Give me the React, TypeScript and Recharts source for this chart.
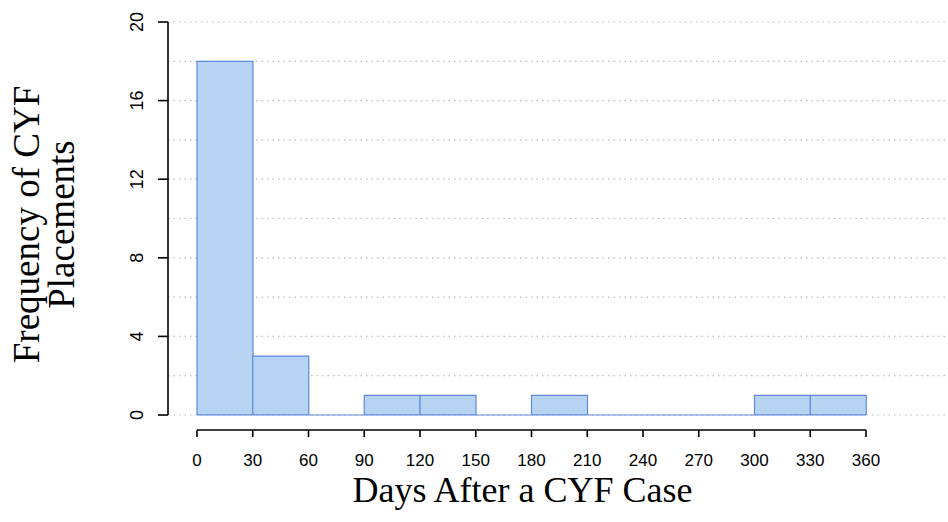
import React from "react";
import { BarChart, Bar, XAxis, YAxis, ReferenceLine } from "recharts";

const BIN_LABELS = ["0-30", "30-60", "60-90", "90-120", "120-150", "150-180", "180-210", "210-240", "240-270", "270-300", "300-330", "330-360"];
const COUNTS = [18, 3, 0, 1, 1, 0, 1, 0, 0, 0, 1, 1];
const X_TICKS = [0, 30, 60, 90, 120, 150, 180, 210, 240, 270, 300, 330, 360];
const Y_TICKS = [0, 4, 8, 12, 16, 20];
const GRID_VALUES = [0, 2, 4, 6, 8, 10, 12, 14, 16, 18, 20];

const W = 948;
const H = 522;
const SANS = "'Liberation Sans', Arial, sans-serif";
const SERIF = "'Liberation Serif', 'Times New Roman', serif";
const FILL = "#b8d4f3";
const EDGE = "#6088de";

const data = BIN_LABELS.map((bin, i) => ({ bin, count: COUNTS[i] }));

function YTick({ x, y, payload }: any) {
  return (
    <text
      x={x}
      y={y}
      dy="0.36em"
      transform={`rotate(-90 ${x} ${y})`}
      textAnchor="middle"
      fontFamily={SANS}
      fontSize={18}
      fill="#000"
    >
      {payload.value}
    </text>
  );
}

function YTitle({ viewBox }: any) {
  const cy = viewBox.y + viewBox.height / 2 + 6;
  const x1 = viewBox.x - 69;
  const x2 = viewBox.x - 34;
  return (
    <g fontFamily={SERIF} fontSize={37} fill="#000">
      <text x={x1} y={cy} textAnchor="middle" transform={`rotate(-90 ${x1} ${cy})`}>
        Frequency of CYF
      </text>
      <text x={x2} y={cy} textAnchor="middle" transform={`rotate(-90 ${x2} ${cy})`}>
        Placements
      </text>
    </g>
  );
}

function XTitle({ viewBox }: any) {
  const x = viewBox.x + viewBox.width / 2 - 9;
  return (
    <text x={x} y={502} textAnchor="middle" fontFamily={SERIF} fontSize={36} fill="#000">
      Days After a CYF Case
    </text>
  );
}

const layer: React.CSSProperties = { position: "absolute", left: 0, top: 0 };

export default function App() {
  return (
    <div style={{ position: "absolute", left: 0, top: 0, width: W, height: H, background: "#fff" }}>
      {/* y axis and dotted grid */}
      <div style={layer}>
        <BarChart width={W} height={H} data={data} margin={{ top: 22, right: 3, bottom: 107, left: 108 }}>
          <XAxis dataKey="bin" hide />
          <YAxis
            type="number"
            domain={[0, 20]}
            allowDataOverflow
            ticks={Y_TICKS}
            interval={0}
            width={60}
            tickSize={10}
            tickMargin={21}
            axisLine={{ stroke: "#000", strokeWidth: 1.6 }}
            tickLine={{ stroke: "#000", strokeWidth: 1.6 }}
            tick={<YTick />}
            label={{ content: <YTitle /> }}
          />
          {GRID_VALUES.map((v) => (
            <ReferenceLine key={v} y={v} stroke="#bdbdbd" strokeWidth={1.2} strokeDasharray="1.5 4" />
          ))}
          <Bar dataKey="count" fill="none" stroke="none" isAnimationActive={false} />
        </BarChart>
      </div>
      {/* day axis (0-360) below the bars */}
      <div style={layer}>
        <BarChart width={W} height={H} data={data} layout="vertical" margin={{ top: 22, right: 82, bottom: 52, left: 197 }}>
          <YAxis type="category" dataKey="bin" hide />
          <XAxis
            type="number"
            domain={[0, 360]}
            allowDataOverflow
            ticks={X_TICKS}
            interval={0}
            height={40}
            tickSize={7}
            tickMargin={17}
            axisLine={{ stroke: "#000", strokeWidth: 1.6 }}
            tickLine={{ stroke: "#000", strokeWidth: 1.6 }}
            tick={{ fill: "#000", fontSize: 17, fontFamily: SANS }}
            label={{ content: <XTitle /> }}
          />
          <Bar dataKey="count" fill="none" stroke="none" isAnimationActive={false} />
        </BarChart>
      </div>
      {/* histogram bars */}
      <div style={layer}>
        <BarChart width={W} height={H} data={data} barCategoryGap={0} margin={{ top: 22, right: 82, bottom: 107, left: 197 }}>
          <XAxis dataKey="bin" hide />
          <YAxis type="number" domain={[0, 20]} allowDataOverflow hide />
          <ReferenceLine y={0} stroke={EDGE} strokeWidth={1.2} />
          <Bar dataKey="count" fill={FILL} stroke={EDGE} strokeWidth={1.2} isAnimationActive={false} />
        </BarChart>
      </div>
    </div>
  );
}
